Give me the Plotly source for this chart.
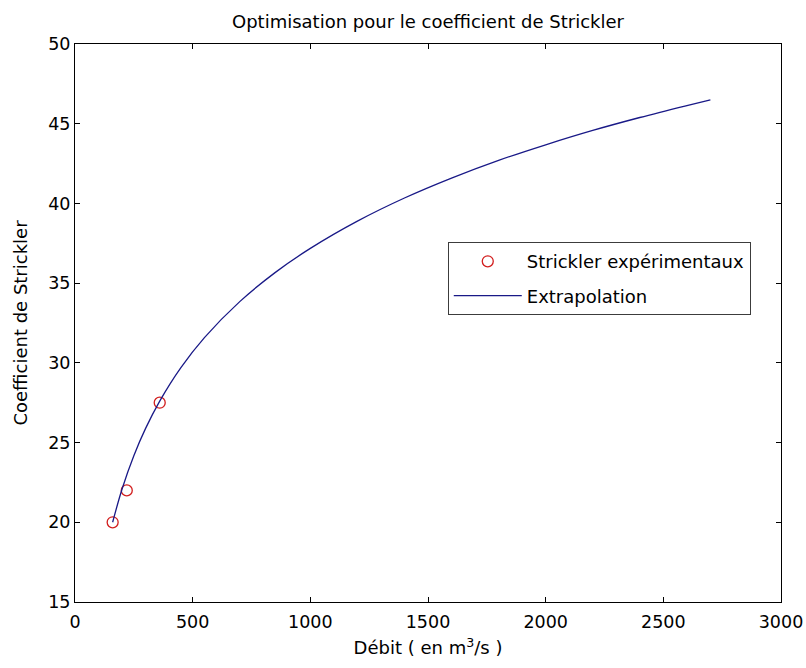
import plotly.graph_objects as go

# Experimental Strickler points
q_exp = [160, 220, 360]
k_exp = [20.0, 22.0, 27.5]

# Extrapolation curve
q_fit = [160, 200, 250, 300, 360, 450, 550, 700, 850, 1000, 1200, 1400, 1600,
         1800, 2000, 2200, 2400, 2600, 2700]
k_fit = [20.0, 22.09, 24.18, 25.89, 27.60, 29.70, 31.58, 33.84, 35.66, 37.18,
         38.89, 40.34, 41.59, 42.70, 43.68, 44.58, 45.39, 46.14, 46.50]

x_ticks = [0, 500, 1000, 1500, 2000, 2500, 3000]
y_ticks = [15, 20, 25, 30, 35, 40, 45, 50]

font_family = "DejaVu Sans, Verdana, sans-serif"

fig = go.Figure()
fig.add_trace(go.Scatter(
    x=q_exp, y=k_exp, mode="markers", name="Strickler expérimentaux",
    legendgroup="a",
    marker=dict(symbol="circle-open", size=11, color="rgb(210,30,30)",
                line=dict(width=1.3, color="rgb(210,30,30)")),
))
fig.add_trace(go.Scatter(
    x=q_fit, y=k_fit, mode="lines", name="Extrapolation",
    legendgroup="b",
    line=dict(color="rgb(25,25,135)", width=1.3, shape="spline"),
))

axis_common = dict(
    showline=True, linecolor="black", linewidth=1, mirror="ticks",
    ticks="inside", ticklen=5, tickcolor="black", tickwidth=1,
    showgrid=False, zeroline=False, automargin=False,
    tickfont=dict(family=font_family, size=17.5, color="black"),
)

fig.update_layout(
    width=806, height=668,
    margin=dict(l=75, r=25, t=44, b=66),
    paper_bgcolor="white", plot_bgcolor="white",
    title=dict(text="Optimisation pour le coefficient de Strickler",
               x=(75 + 781) / 2 / 806, xanchor="center", y=1 - 22 / 668, yanchor="middle",
               font=dict(family=font_family, size=18, color="black")),
    xaxis=dict(range=[0, 3000], tickvals=x_ticks, ticktext=[str(v) for v in x_ticks],
               ticklabelstandoff=4,
               title=dict(text="Débit ( en m<sup>3</sup>/s )", standoff=10,
                          font=dict(family=font_family, size=18, color="black")),
               **axis_common),
    yaxis=dict(range=[15, 50], tickvals=y_ticks, ticktext=[str(v) for v in y_ticks],
               title=dict(text="Coefficient de Strickler", standoff=15,
                          font=dict(family=font_family, size=18, color="black")),
               **axis_common),
    legend=dict(x=0.528, y=0.645, xanchor="left", yanchor="top",
                bgcolor="white", bordercolor="rgb(60,60,60)", borderwidth=1,
                font=dict(family=font_family, size=18, color="black"),
                itemwidth=68, traceorder="grouped", tracegroupgap=8),
    showlegend=True,
)

fig.write_html("out.html")
